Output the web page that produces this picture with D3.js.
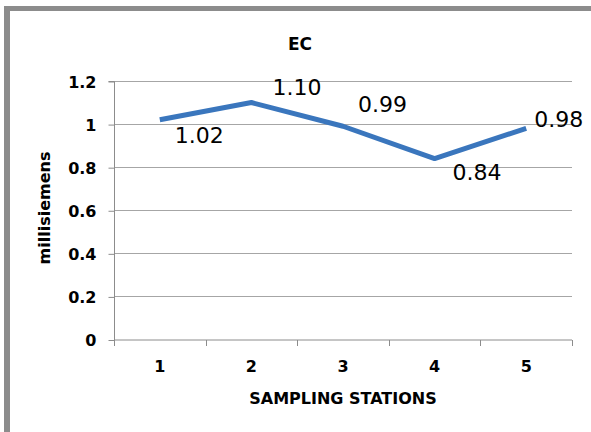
<!DOCTYPE html>
<html>
<head>
<meta charset="utf-8">
<script src="https://cdn.jsdelivr.net/npm/d3@7"></script>
<style>
  html, body { margin: 0; padding: 0; background: #fff; }
  svg { display: block; }
</style>
</head>
<body>
<svg id="chart" width="591" height="432"></svg>
<script>
const categories = ["1", "2", "3", "4", "5"];
const ecValues = [1.02, 1.10, 0.99, 0.84, 0.98];
const valueLabels = ["1.02", "1.10", "0.99", "0.84", "0.98"];
const yTicks = [0, 0.2, 0.4, 0.6, 0.8, 1, 1.2];
const yTickLabels = ["0", "0.2", "0.4", "0.6", "0.8", "1", "1.2"];
const title = "EC";
const xTitle = "SAMPLING STATIONS";
const yTitle = "millisiemens";

const svg = d3.select("#chart");
const W = 591, H = 432;

// outer frame (gray top/left border)
svg.append("rect").attr("x", 4).attr("y", 6).attr("width", W).attr("height", 5).attr("fill", "#8c8c8c");
svg.append("rect").attr("x", 4).attr("y", 6).attr("width", 6).attr("height", H).attr("fill", "#8c8c8c");

const plot = { left: 114, right: 572, top: 81, bottom: 339.5 };

const x = d3.scaleBand().domain(categories).range([plot.left, plot.right]).padding(0);
const y = d3.scaleLinear().domain([0, 1.2]).range([plot.bottom, plot.top]);

const tickFont = "'DejaVu Sans', sans-serif";

// gridlines
svg.append("g").selectAll("line").data(yTicks.filter(d => d > 0)).join("line")
  .attr("x1", plot.left).attr("x2", plot.right)
  .attr("y1", d => Math.round(y(d)) + 0.5).attr("y2", d => Math.round(y(d)) + 0.5)
  .attr("stroke", "#a6a6a6").attr("stroke-width", 1);

// y axis
const yAxis = d3.axisLeft(y).tickValues(yTicks)
  .tickFormat((d, i) => yTickLabels[i]).tickSize(6).tickPadding(12);
const gy = svg.append("g").attr("transform", `translate(${plot.left + 0.5},0.5)`).call(yAxis);
gy.select(".domain").attr("stroke", "#8c8c8c").attr("d", `M-6,${plot.top}H0V${plot.bottom}`);
gy.selectAll(".tick line").attr("stroke", "#8c8c8c");
gy.selectAll(".tick text").attr("font-family", tickFont).attr("font-weight", "bold")
  .attr("font-size", 16).attr("fill", "#000").attr("dy", "0.36em");

// x axis
const xAxis = d3.axisBottom(x).tickSize(0).tickPadding(21);
const gx = svg.append("g").attr("transform", `translate(0,${plot.bottom + 0.5})`).call(xAxis);
gx.select(".domain").attr("stroke", "#8c8c8c").attr("d", `M${plot.left},0H${plot.right}`);
gx.selectAll(".tick text").attr("font-family", tickFont).attr("font-weight", "bold")
  .attr("font-size", 16).attr("fill", "#000");
// category boundary tick marks
const boundaries = categories.map(c => x(c)).concat([x(categories[categories.length - 1]) + x.bandwidth()]);
gx.append("g").selectAll("line").data(boundaries).join("line")
  .attr("x1", d => Math.round(d) + 0.5).attr("x2", d => Math.round(d) + 0.5)
  .attr("y1", 0).attr("y2", 6).attr("stroke", "#8c8c8c");

// line
const line = d3.line()
  .x((d, i) => x(categories[i]) + x.bandwidth() / 2)
  .y(d => y(d));
svg.append("path").datum(ecValues)
  .attr("d", line).attr("fill", "none")
  .attr("stroke", "#3a76bd").attr("stroke-width", 5)
  .attr("stroke-linejoin", "round").attr("stroke-linecap", "butt");

// data labels (placement offsets relative to each point)
const labelOffsets = [[15, 23], [21, -8], [15, -14], [18, 21], [8, -1]];
svg.append("g").selectAll("text").data(ecValues).join("text")
  .attr("x", (d, i) => x(categories[i]) + x.bandwidth() / 2 + labelOffsets[i][0])
  .attr("y", (d, i) => y(d) + labelOffsets[i][1])
  .attr("font-family", "'DejaVu Sans', sans-serif").attr("font-size", 22)
  .attr("fill", "#000")
  .text((d, i) => valueLabels[i]);

// title
svg.append("text").attr("x", 300).attr("y", 50).attr("text-anchor", "middle")
  .attr("font-family", tickFont).attr("font-weight", "bold").attr("font-size", 17)
  .attr("fill", "#000").text(title);

// x title
svg.append("text").attr("x", 343).attr("y", 404).attr("text-anchor", "middle")
  .attr("font-family", tickFont).attr("font-weight", "bold").attr("font-size", 16)
  .attr("fill", "#000").text(xTitle);

// y title
svg.append("text").attr("transform", "translate(50,208) rotate(-90)").attr("text-anchor", "middle")
  .attr("font-family", tickFont).attr("font-weight", "bold").attr("font-size", 16)
  .attr("fill", "#000").text(yTitle);
</script>
</body>
</html>
